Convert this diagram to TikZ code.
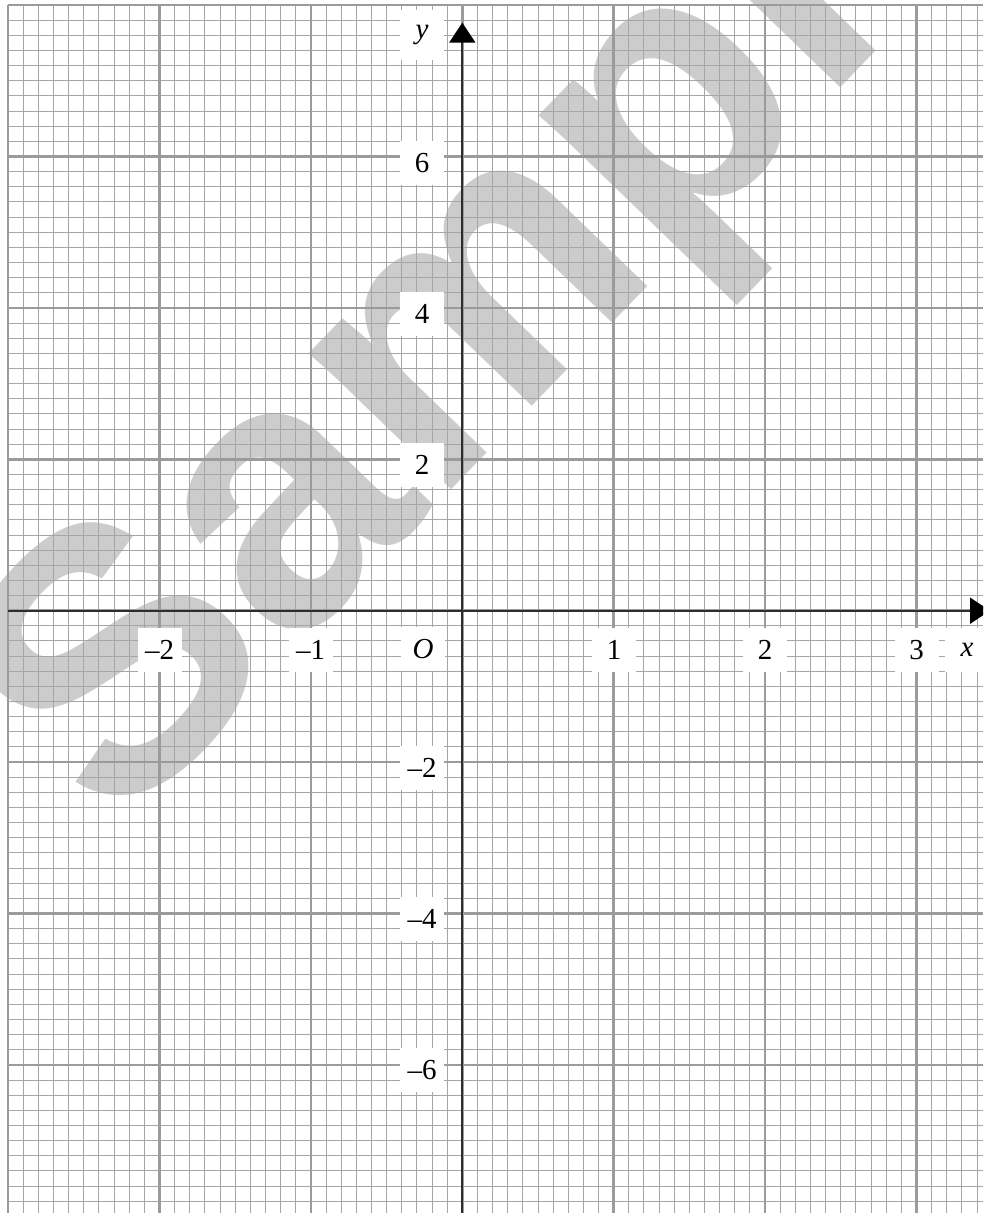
\documentclass[tikz,border=0pt]{standalone}
\usepackage{fontspec}
\setmainfont{Liberation Serif}
\newfontfamily\wmfont{Liberation Sans}
\usetikzlibrary{arrows.meta}
\definecolor{wmgray}{RGB}{204,204,204}
\definecolor{minorgray}{RGB}{165,165,165}
\definecolor{majorgray}{RGB}{155,155,155}
\definecolor{axisdark}{RGB}{45,45,45}
\tikzset{
  minorline/.style={minorgray, line width=1pt},
  majorline/.style={majorgray, line width=2.7pt},
  axisline/.style={axisdark, line width=2pt, -{Triangle[length=20pt,width=26pt,color=black]}},
  lab/.style={fill=white, inner xsep=7pt, inner ysep=0pt, minimum height=44pt, minimum width=44pt, font=\fontsize{29}{29}\selectfont},
  wm/.style={text=wmgray, inner sep=0pt, font=\wmfont\bfseries\fontsize{373}{373}\selectfont}
}
\begin{document}
\begin{tikzpicture}[x=1pt,y=-1pt]
\useasboundingbox (0,0) rectangle (983,1213);
\clip (0,0) rectangle (983,1213);
\fill[white] (0,0) rectangle (983,1213);
% watermark
\node[wm, rotate=46, anchor=base west] (wmark) at (116.4,836.9) {Sample};
% minor grid
\foreach \i in {0,...,64} \draw[minorline] ({8.1+\i*15.14},5.1) -- ({8.1+\i*15.14},1213);
\foreach \j in {0,...,79} \draw[minorline] (8.1,{5.1+\j*15.14}) -- (983,{5.1+\j*15.14});
% major grid
\foreach \i in {0,...,6} \draw[majorline] ({8.1+\i*151.4},5.1) -- ({8.1+\i*151.4},1213);
\foreach \j in {0,...,7} \draw[majorline] (8.1,{5.1+\j*151.4}) -- (983,{5.1+\j*151.4});
% axes
\coordinate (xstart) at (8.1,610.7);
\coordinate (xend) at (990,610.7);
\coordinate (ystart) at (462.3,1213);
\coordinate (yend) at (462.3,22.7);
\draw[axisline] (xstart) -- (xend);
\draw[axisline] (ystart) -- (yend);
% x labels
\node[lab] (lxm2) at (159.5,650) {\textendash2};
\node[lab] (lxm1) at (310.5,650) {\textendash1};
\node[lab] (lO) at (423,649) {\itshape O};
\node[lab] (lx1) at (614,650) {1};
\node[lab] (lx2) at (765,650) {2};
\node[lab] (lx3) at (916.5,650) {3};
\node[lab] (lx) at (967,650) {\itshape x};
% y labels
\node[lab, minimum height=50pt] (ly) at (422,35) {\itshape y};
\node[lab] (ly6) at (422,163) {6};
\node[lab] (ly4) at (422,314) {4};
\node[lab] (ly2) at (422,465) {2};
\node[lab] (lym2) at (422,768) {\textendash2};
\node[lab] (lym4) at (422,919) {\textendash4};
\node[lab] (lym6) at (422,1070) {\textendash6};
\end{tikzpicture}
\end{document}
